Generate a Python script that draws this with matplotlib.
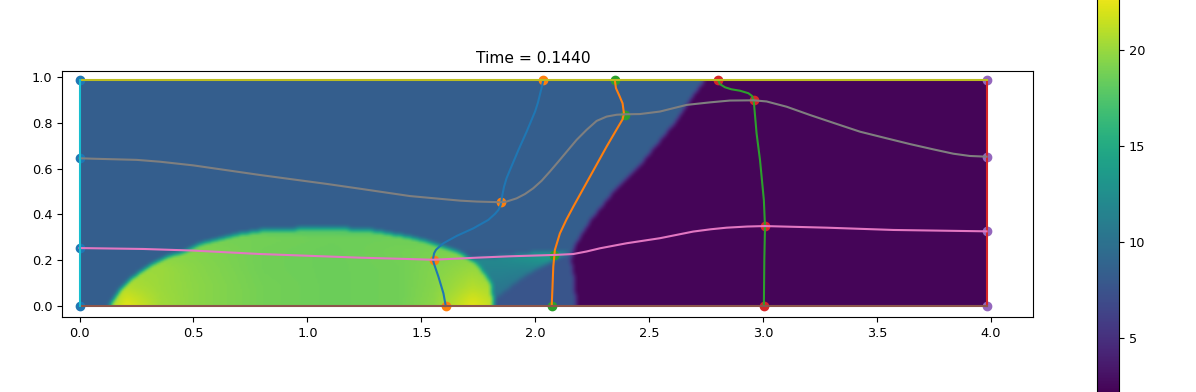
from __future__ import annotations

import matplotlib

matplotlib.use("Agg")
import matplotlib.pyplot as plt
import numpy as np
from matplotlib.path import Path

TITLE = "Time = 0.1440"
DOMAIN_X = 3.98
DOMAIN_Y = 0.985

# mesh lines
curve1_x = [1.607, 1.597, 1.575, 1.555, 1.551, 1.553, 1.556, 1.564, 1.579, 1.597, 1.655, 1.728, 1.794, 1.823, 1.838, 1.848, 1.852, 1.857, 1.863, 1.874, 1.889, 1.926, 1.962, 1.999, 2.012, 2.021, 2.029, 2.035]
curve1_y = [0.0, 0.055, 0.128, 0.186, 0.201, 0.215, 0.230, 0.245, 0.259, 0.274, 0.306, 0.339, 0.376, 0.402, 0.419, 0.441, 0.463, 0.492, 0.521, 0.558, 0.594, 0.681, 0.761, 0.849, 0.889, 0.926, 0.958, 0.985]
curve2_x = [2.072, 2.075, 2.079, 2.086, 2.097, 2.108, 2.137, 2.167, 2.240, 2.313, 2.364, 2.383, 2.389, 2.383, 2.368, 2.354, 2.349]
curve2_y = [0.0, 0.070, 0.172, 0.245, 0.281, 0.317, 0.378, 0.434, 0.565, 0.696, 0.783, 0.815, 0.841, 0.885, 0.920, 0.951, 0.985]
curve3_x = [3.003, 3.005, 3.008, 3.003, 2.986, 2.971, 2.959, 2.951, 2.935, 2.898, 2.861, 2.832, 2.810, 2.803]
curve3_y = [0.0, 0.201, 0.346, 0.463, 0.638, 0.754, 0.892, 0.917, 0.929, 0.940, 0.946, 0.955, 0.969, 0.985]
lower_x = [0.0, 0.280, 0.499, 0.792, 1.231, 1.377, 1.553, 1.743, 1.889, 2.086, 2.167, 2.225, 2.284, 2.401, 2.547, 2.693, 2.770, 2.840, 2.930, 3.008, 3.278, 3.571, 3.98]
lower_y = [0.253, 0.249, 0.242, 0.227, 0.211, 0.207, 0.202, 0.211, 0.217, 0.223, 0.227, 0.238, 0.252, 0.274, 0.296, 0.325, 0.335, 0.342, 0.347, 0.349, 0.342, 0.332, 0.326]
upper_x = [0.0, 0.061, 0.251, 0.353, 0.499, 0.792, 1.085, 1.231, 1.450, 1.670, 1.743, 1.849, 1.874, 1.918, 1.955, 1.991, 2.028, 2.064, 2.101, 2.138, 2.181, 2.225, 2.269, 2.313, 2.357, 2.393, 2.459, 2.547, 2.664, 2.766, 2.854, 2.959, 3.015, 3.103, 3.205, 3.322, 3.425, 3.542, 3.644, 3.746, 3.834, 3.907, 3.98]
upper_y = [0.645, 0.643, 0.638, 0.630, 0.614, 0.572, 0.533, 0.512, 0.480, 0.460, 0.456, 0.453, 0.456, 0.470, 0.489, 0.514, 0.547, 0.587, 0.630, 0.674, 0.725, 0.769, 0.808, 0.827, 0.835, 0.837, 0.838, 0.849, 0.878, 0.889, 0.897, 0.898, 0.893, 0.870, 0.834, 0.795, 0.761, 0.732, 0.707, 0.684, 0.665, 0.655, 0.652]

# control points, one list per column of the mesh
column_labels = ["left", "curve1", "curve2", "curve3", "right"]
points_x = [
    [0.0, 0.0, 0.0, 0.0],
    [1.607, 1.555, 1.849, 2.035],
    [2.072, 2.083, 2.392, 2.350],
    [3.003, 3.008, 2.959, 2.803],
    [3.98, 3.98, 3.98, 3.98],
]
points_y = [
    [0.0, 0.253, 0.645, 0.985],
    [0.0, 0.202, 0.453, 0.985],
    [0.0, 0.223, 0.834, 0.985],
    [0.0, 0.349, 0.898, 0.985],
    [0.0, 0.326, 0.652, 0.985],
]

# region outlines of the colour field
bubble_x = [0.126, 0.178, 0.236, 0.309, 0.383, 0.456, 0.529, 0.602, 0.705, 0.792, 0.968, 1.114, 1.260, 1.362, 1.465, 1.553, 1.670, 1.743, 1.802, 1.816]
bubble_y = [0.0, 0.077, 0.128, 0.179, 0.215, 0.237, 0.271, 0.291, 0.315, 0.329, 0.337, 0.339, 0.332, 0.315, 0.295, 0.271, 0.230, 0.179, 0.099, 0.0]
wedge_x = [1.60, 1.721, 1.875, 2.021, 2.152, 2.087, 1.948, 1.816, 1.70]
wedge_y = [0.19, 0.204, 0.218, 0.234, 0.234, 0.204, 0.128, 0.026, 0.0]
shock_x = [2.174, 2.174, 2.165, 2.152, 2.167, 2.240, 2.327, 2.444, 2.532, 2.605, 2.678, 2.737, 2.78]
shock_y = [-0.1, 0.0, 0.120, 0.201, 0.259, 0.376, 0.485, 0.601, 0.710, 0.798, 0.907, 0.985, 1.1]

BACKGROUND_VALUE = 8.4
BEHIND_WEDGE_VALUE = 7.7
LOW_VALUE = 2.4

bubble_grid_x = [0.10, 0.20, 0.35, 0.50, 0.80, 1.10, 1.40, 1.55, 1.72, 1.78, 1.85]
bubble_grid_y = [0.0, 0.08, 0.16, 0.24, 0.30, 0.34]
bubble_grid = [
    [19.5, 22.4, 20.3, 19.6, 18.8, 18.5, 18.7, 19.6, 22.4, 21.7, 20.0],
    [19.5, 20.8, 20.1, 19.6, 18.8, 18.5, 18.7, 19.4, 20.9, 20.6, 19.5],
    [19.5, 20.0, 20.1, 19.5, 18.7, 18.5, 18.7, 19.3, 20.0, 19.6, 18.5],
    [18.5, 18.5, 19.3, 19.3, 18.7, 18.5, 18.8, 19.0, 19.2, 18.5, 17.5],
    [17.5, 17.5, 17.5, 18.8, 18.8, 18.6, 18.6, 18.3, 17.5, 17.5, 17.5],
    [16.5, 16.5, 16.5, 16.5, 17.0, 17.0, 16.5, 16.5, 16.5, 16.5, 16.5],
]
wedge_grid_x = [1.70, 1.85, 2.00, 2.10, 2.16]
wedge_grid_y = [0.0, 0.08, 0.15, 0.20, 0.24]
wedge_grid = [
    [10.5, 9.5, 8.5, 8.0, 8.0],
    [11.0, 10.5, 9.5, 8.5, 8.0],
    [11.5, 11.5, 11.0, 10.0, 8.5],
    [12.0, 12.0, 13.0, 13.8, 11.0],
    [12.0, 12.5, 14.0, 14.5, 12.0],
]

CBAR_TICKS = [5, 10, 15, 20]
VMIN = 2.09
VMAX = 23.27

plt.rcParams["font.size"] = 9.3
plt.rcParams["axes.titlesize"] = 11.2


def sample_grid(xs, ys, grid_x, grid_y, grid):
    """Bilinear lookup in one of the hand-read value grids."""
    grid = np.asarray(grid)
    by_row = np.stack([np.interp(xs.ravel(), grid_x, row) for row in grid])
    rows = np.interp(ys.ravel(), grid_y, np.arange(len(grid_y)))
    low = np.floor(rows).astype(int)
    high = np.minimum(low + 1, len(grid_y) - 1)
    idx = np.arange(rows.size)
    out = by_row[low, idx] * (1 - rows + low) + by_row[high, idx] * (rows - low)
    return out.reshape(xs.shape)


def inside(xs, ys, outline_x, outline_y):
    verts = np.column_stack([outline_x, outline_y])
    return Path(verts).contains_points(np.column_stack([xs.ravel(), ys.ravel()])).reshape(xs.shape)


def soften(field, width=3, passes=2):
    """Box blur with edge padding, the reference field has soft region edges."""
    kernel = np.ones(width) / width
    pad = width // 2
    for _ in range(passes):
        padded = np.pad(field, ((0, 0), (pad, pad)), mode="edge")
        field = np.apply_along_axis(lambda r: np.convolve(r, kernel, mode="valid"), 1, padded)
        padded = np.pad(field, ((pad, pad), (0, 0)), mode="edge")
        field = np.apply_along_axis(lambda c: np.convolve(c, kernel, mode="valid"), 0, padded)
    return field


def build_field():
    xs, ys = np.meshgrid(np.linspace(0, DOMAIN_X, 520), np.linspace(0, DOMAIN_Y, 130))
    field = np.full(xs.shape, BACKGROUND_VALUE)

    behind = inside(xs, ys, [1.70, 2.2, 2.2, 1.70], [-0.01, -0.01, 0.234, 0.234])
    field[behind] = BEHIND_WEDGE_VALUE

    wedge = inside(xs, ys, wedge_x, wedge_y)
    field[wedge] = sample_grid(xs, ys, wedge_grid_x, wedge_grid_y, wedge_grid)[wedge]

    shock = inside(xs, ys, shock_x + [4.1, 4.1], shock_y + [1.1, -0.1])
    field[shock] = LOW_VALUE

    bubble = inside(xs, ys, [bubble_x[0]] + bubble_x + [bubble_x[-1]], [-0.1] + bubble_y + [-0.1])
    field[bubble] = sample_grid(xs, ys, bubble_grid_x, bubble_grid_y, bubble_grid)[bubble]
    return soften(field)


fig = plt.figure(figsize=(11.96, 3.92), dpi=100)
ax = fig.add_axes([62 / 1196, 1 - 317 / 392, 971 / 1196, 246 / 392])
im = ax.imshow(build_field(), origin="lower", extent=(0, DOMAIN_X, 0, DOMAIN_Y), aspect="auto",
               cmap="viridis", vmin=VMIN, vmax=VMAX, interpolation="bilinear")

for col_x, col_y in zip(points_x, points_y):
    ax.scatter(col_x, col_y, zorder=2)

ax.plot(curve1_x, curve1_y, color="tab:blue", zorder=3)
ax.plot(curve2_x, curve2_y, color="tab:orange", zorder=3)
ax.plot(curve3_x, curve3_y, color="tab:green", zorder=3)
ax.plot([DOMAIN_X, DOMAIN_X], [0, DOMAIN_Y], color="tab:red", zorder=3)
ax.plot([0, DOMAIN_X], [0, 0], color="tab:brown", zorder=3)
ax.plot(lower_x, lower_y, color="tab:pink", zorder=3)
ax.plot(upper_x, upper_y, color="tab:gray", zorder=3)
ax.plot([0, DOMAIN_X], [DOMAIN_Y, DOMAIN_Y], color="tab:olive", zorder=3)
ax.plot([0, 0], [0, DOMAIN_Y], color="tab:cyan", zorder=3)

ax.set_xlim(-0.0768, 4.184)
ax.set_ylim(-0.048, 1.026)
ax.set_title(TITLE, x=0.485)

# the colorbar runs past the figure edges in the reference, so it gets cropped here too
cax = fig.add_axes([1097 / 1196, -2 / 392, 22 / 1196, 407 / 392])
cbar = fig.colorbar(im, cax=cax)
cbar.set_ticks(CBAR_TICKS)

fig.savefig("out.png", dpi=100)
